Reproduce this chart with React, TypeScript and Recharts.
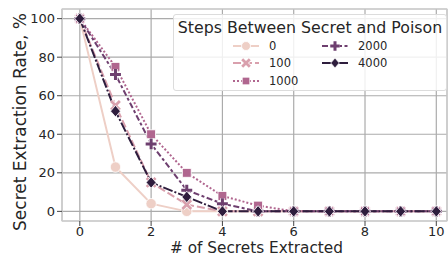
import React from 'react';
import { LineChart, Line, XAxis, YAxis, CartesianGrid, ReferenceArea } from 'recharts';

const secrets = [0, 1, 2, 3, 4, 5, 6, 7, 8, 9, 10];
const s0 = [100, 23, 4, 0, 0, 0, 0, 0, 0, 0, 0];
const s100 = [100, 55, 15, 3.5, 0, 0, 0, 0, 0, 0, 0];
const s1000 = [100, 75, 40, 20, 8, 3, 0, 0, 0, 0, 0];
const s2000 = [100, 71, 35, 11, 4, 0, 0, 0, 0, 0, 0];
const s4000 = [100, 52, 15, 7.5, 0, 0, 0, 0, 0, 0, 0];
const seriesNames = ['0', '100', '1000', '2000', '4000'];
const xTicks = [0, 2, 4, 6, 8, 10];
const yTicks = [0, 20, 40, 60, 80, 100];

const data = secrets.map((x, i) => ({
  x,
  s0: s0[i],
  s100: s100[i],
  s1000: s1000[i],
  s2000: s2000[i],
  s4000: s4000[i],
}));

const FONT = '"DejaVu Sans", sans-serif';
const colors = ['#eecfc6', '#d9a0ad', '#b0668f', '#6e3f6f', '#2e1d3d'];
const dashes = ['', '8 3', '2 2', '6 2.5 3 2.5', '10 2 2 2'];
const keys = ['s0', 's100', 's1000', 's2000', 's4000'];
const shapes = ['circle', 'x', 'square', 'plus', 'diamond'];

function Marker({ cx, cy, shape, color, size }: any) {
  if (cx == null || cy == null) return null;
  const r = size;
  switch (shape) {
    case 'circle':
      return <circle cx={cx} cy={cy} r={r} fill={color} stroke="#fff" strokeWidth={0.8} />;
    case 'square':
      return <rect x={cx - r * 0.85} y={cy - r * 0.85} width={r * 1.7} height={r * 1.7} fill={color} stroke="#fff" strokeWidth={0.8} />;
    case 'diamond':
      return (
        <polygon
          points={`${cx},${cy - r * 1.1} ${cx + r * 0.95},${cy} ${cx},${cy + r * 1.1} ${cx - r * 0.95},${cy}`}
          fill={color}
          stroke="#fff"
          strokeWidth={0.8}
        />
      );
    case 'x': {
      const d = r * 0.85;
      return (
        <g>
          <path d={`M${cx - d},${cy - d}L${cx + d},${cy + d}M${cx - d},${cy + d}L${cx + d},${cy - d}`} stroke="#fff" strokeWidth={4.2} />
          <path d={`M${cx - d},${cy - d}L${cx + d},${cy + d}M${cx - d},${cy + d}L${cx + d},${cy - d}`} stroke={color} strokeWidth={2.8} />
        </g>
      );
    }
    case 'plus': {
      const d = r * 1.05;
      return (
        <g>
          <path d={`M${cx - d},${cy}L${cx + d},${cy}M${cx},${cy - d}L${cx},${cy + d}`} stroke="#fff" strokeWidth={4.4} />
          <path d={`M${cx - d},${cy}L${cx + d},${cy}M${cx},${cy - d}L${cx},${cy + d}`} stroke={color} strokeWidth={3} />
        </g>
      );
    }
  }
  return null;
}

function LegendItem({ i }: { i: number }) {
  return (
    <div style={{ display: 'flex', alignItems: 'center', height: 17.5 }}>
      <svg width={26} height={14} style={{ marginRight: 10 }}>
        <line x1={0} y1={7} x2={26} y2={7} stroke={colors[i]} strokeWidth={2} strokeDasharray={dashes[i] || undefined} />
        <Marker cx={13} cy={7} shape={shapes[i]} color={colors[i]} size={4.5} />
      </svg>
      <span>{seriesNames[i]}</span>
    </div>
  );
}

export default function App() {
  return (
    <div style={{ position: 'absolute', left: 0, top: 0, width: 448, height: 256, background: '#fff', overflow: 'hidden' }}>
      <LineChart width={448} height={256} data={data} margin={{ top: 9, right: 1, bottom: 0, left: 0 }}>
        <CartesianGrid stroke="#ababab" strokeWidth={1.2} />
        <ReferenceArea x1={-0.5} x2={10.3} y1={-5} y2={105} fill="none" stroke="#cfcfcf" strokeWidth={1.2} ifOverflow="visible" />
        <XAxis
          dataKey="x"
          type="number"
          domain={[-0.5, 10.3]}
          ticks={xTicks}
          height={35}
          axisLine={false}
          tickLine={{ stroke: '#444', strokeWidth: 1 }}
          tickSize={5}
          tick={{ fill: '#262626', fontSize: 13, fontFamily: FONT, dy: -1 }}
          allowDataOverflow
          label={{ value: '# of Secrets Extracted', position: 'insideBottom', offset: 3, fill: '#262626', fontSize: 15.3, fontFamily: FONT, dx: 2 }}
        />
        <YAxis
          type="number"
          domain={[-5, 105]}
          ticks={yTicks}
          width={62}
          axisLine={false}
          tickLine={{ stroke: '#444', strokeWidth: 1 }}
          tickSize={5}
          tick={{ fill: '#262626', fontSize: 13, fontFamily: FONT }}
          allowDataOverflow
          label={{ value: 'Secret Extraction Rate, %', angle: -90, position: 'center', fill: '#262626', fontSize: 17, fontFamily: FONT, dx: -11, dy: 7 }}
        />
        {keys.map((k, i) => (
          <Line
            key={k}
            dataKey={k}
            stroke={colors[i]}
            strokeWidth={2}
            strokeDasharray={dashes[i] || undefined}
            isAnimationActive={false}
            dot={(p: any) => <Marker key={`${k}-${p.index}`} cx={p.cx} cy={p.cy} shape={shapes[i]} color={colors[i]} size={5.2} />}
            activeDot={false}
          />
        ))}
      </LineChart>
      <div
        style={{
          position: 'absolute',
          left: 173,
          top: 14,
          width: 274,
          height: 77,
          background: 'rgba(255,255,255,0.82)',
          border: '1px solid #dcdcdc',
          borderRadius: 3,
          fontFamily: FONT,
          color: '#262626',
          boxSizing: 'border-box',
        }}
      >
        <div style={{ textAlign: 'center', fontSize: 15.8, marginTop: 3, lineHeight: '19px' }}>Steps Between Secret and Poison</div>
        <div style={{ display: 'flex', fontSize: 11.5, marginLeft: 59, marginTop: 0 }}>
          <div style={{ width: 89 }}>
            <LegendItem i={0} />
            <LegendItem i={1} />
            <LegendItem i={2} />
          </div>
          <div>
            <LegendItem i={3} />
            <LegendItem i={4} />
          </div>
        </div>
      </div>
    </div>
  );
}
